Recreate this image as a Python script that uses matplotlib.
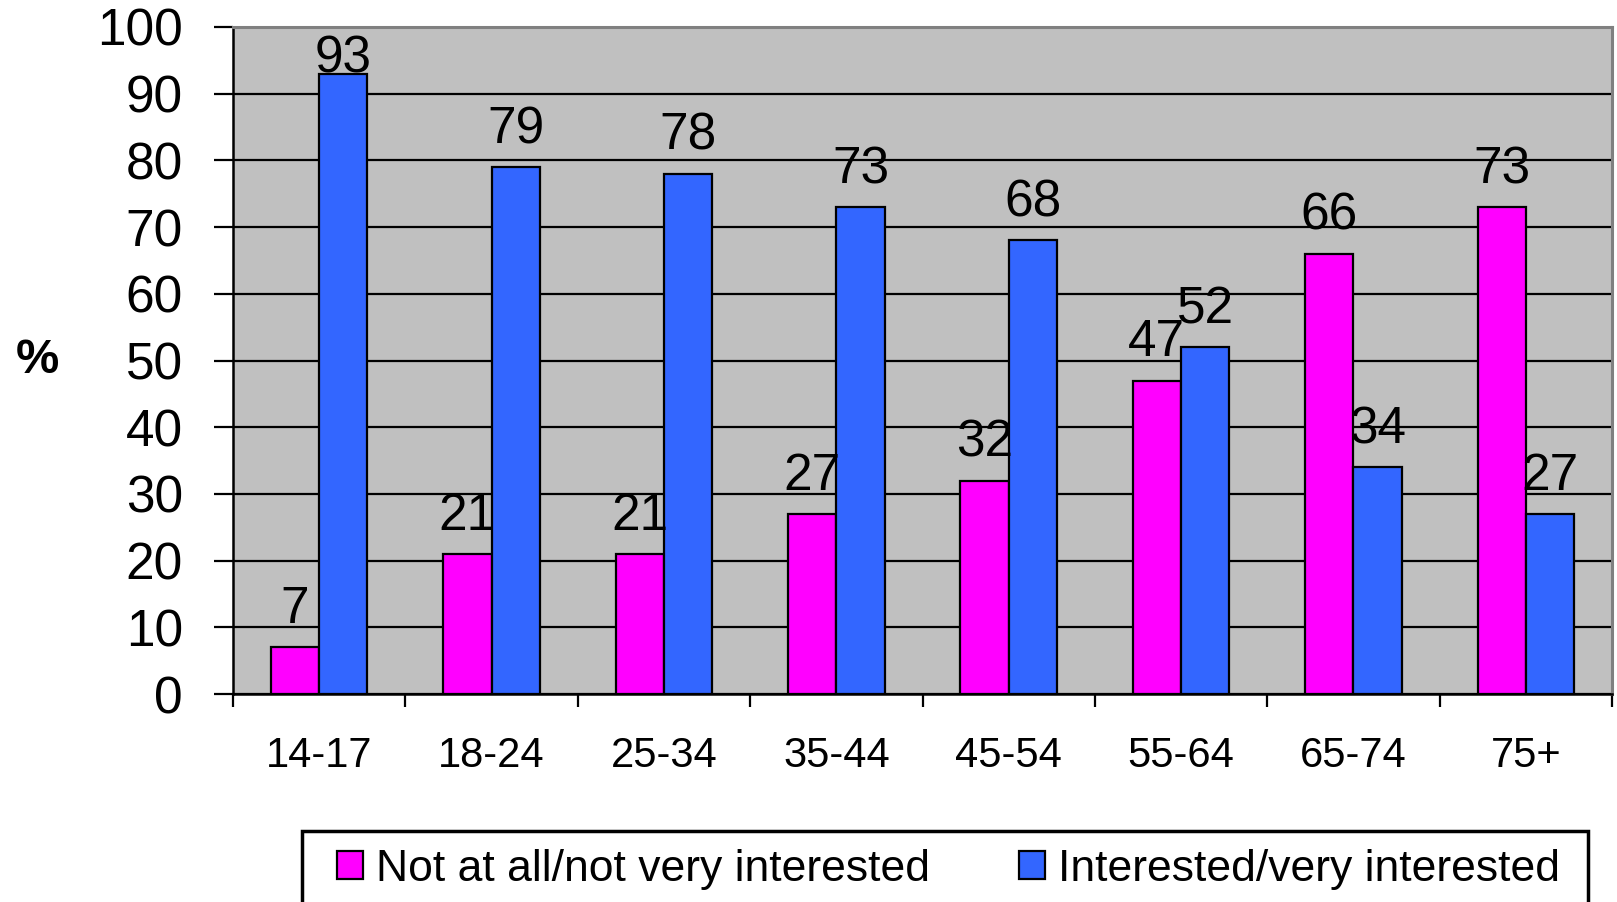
import matplotlib
matplotlib.use("Agg")
import matplotlib.pyplot as plt
from matplotlib.patches import Rectangle
import numpy as np

plt.rcParams['font.family'] = ['Liberation Sans', 'DejaVu Sans']

# Interest by age group (%)
age_groups = ["14-17", "18-24", "25-34", "35-44", "45-54", "55-64", "65-74", "75+"]
not_interested = [7, 21, 21, 27, 32, 47, 66, 73]
interested = [93, 79, 78, 73, 68, 52, 34, 27]
series_names = ["Not at all/not very interested", "Interested/very interested"]
y_ticks = list(range(0, 101, 10))

W, H = 1617, 902
fig = plt.figure(figsize=(W / 100, H / 100), dpi=100)
ax = fig.add_axes([233 / W, 1 - 694 / H, (1612 - 233) / W, (694 - 27) / H])

x = np.arange(len(age_groups))
bw = 0.28
b1 = ax.bar(x - bw / 2, not_interested, bw, color='#FF00FF', edgecolor='black',
            linewidth=1.6, zorder=3, label=series_names[0])
b2 = ax.bar(x + bw / 2, interested, bw, color='#3366FF', edgecolor='black',
            linewidth=1.6, zorder=3, label=series_names[1])

# value labels above each bar, kept inside the plot area
for xs, vals in ((x - bw / 2, not_interested), (x + bw / 2, interested)):
    for xi, v in zip(xs, vals):
        ax.text(xi, min(v + 3.6, 93.2), str(v), ha='center', va='baseline',
                fontsize=37, zorder=4)

ax.set_xlim(-0.5, len(age_groups) - 0.5)
ax.set_ylim(0, 100)
ax.set_facecolor('#C0C0C0')
ax.set_axisbelow(True)
ax.yaxis.grid(True, color='black', linewidth=1.6)

for side in ('left', 'bottom'):
    ax.spines[side].set_color('black')
    ax.spines[side].set_linewidth(1.8)
for side in ('top', 'right'):
    ax.spines[side].set_color('#808080')
    ax.spines[side].set_linewidth(2.2)

ax.set_yticks(y_ticks)
ax.tick_params(axis='y', length=14, width=1.6, pad=22, labelsize=37)

ax.set_xticks(np.arange(-0.5, len(age_groups), 1))
ax.set_xticklabels([])
ax.tick_params(axis='x', which='major', length=9.5, width=1.6)
ax.set_xticks(x, minor=True)
ax.set_xticklabels(age_groups, minor=True)
ax.tick_params(axis='x', which='minor', length=0, pad=30, labelsize=30)

fig.text(37 / W, 1 - 361 / H, "%", fontsize=35, fontweight='bold',
         ha='center', va='center')

# legend box running off the lower edge
fig.add_artist(Rectangle((302 / W, -0.05), (1588 - 302) / W, (1 - 831 / H) + 0.05,
                         transform=fig.transFigure, fill=False,
                         edgecolor='black', linewidth=2.5))
fig.legend(handles=[b1, b2], labels=series_names, loc='center left',
           bbox_to_anchor=(337 / W, 1 - 869 / H), ncol=2, frameon=False,
           fontsize=32, handlelength=0.58, handleheight=0.58,
           handletextpad=0.3, columnspacing=2.0, borderpad=0, borderaxespad=0)

fig.savefig("out.png", dpi=100)
